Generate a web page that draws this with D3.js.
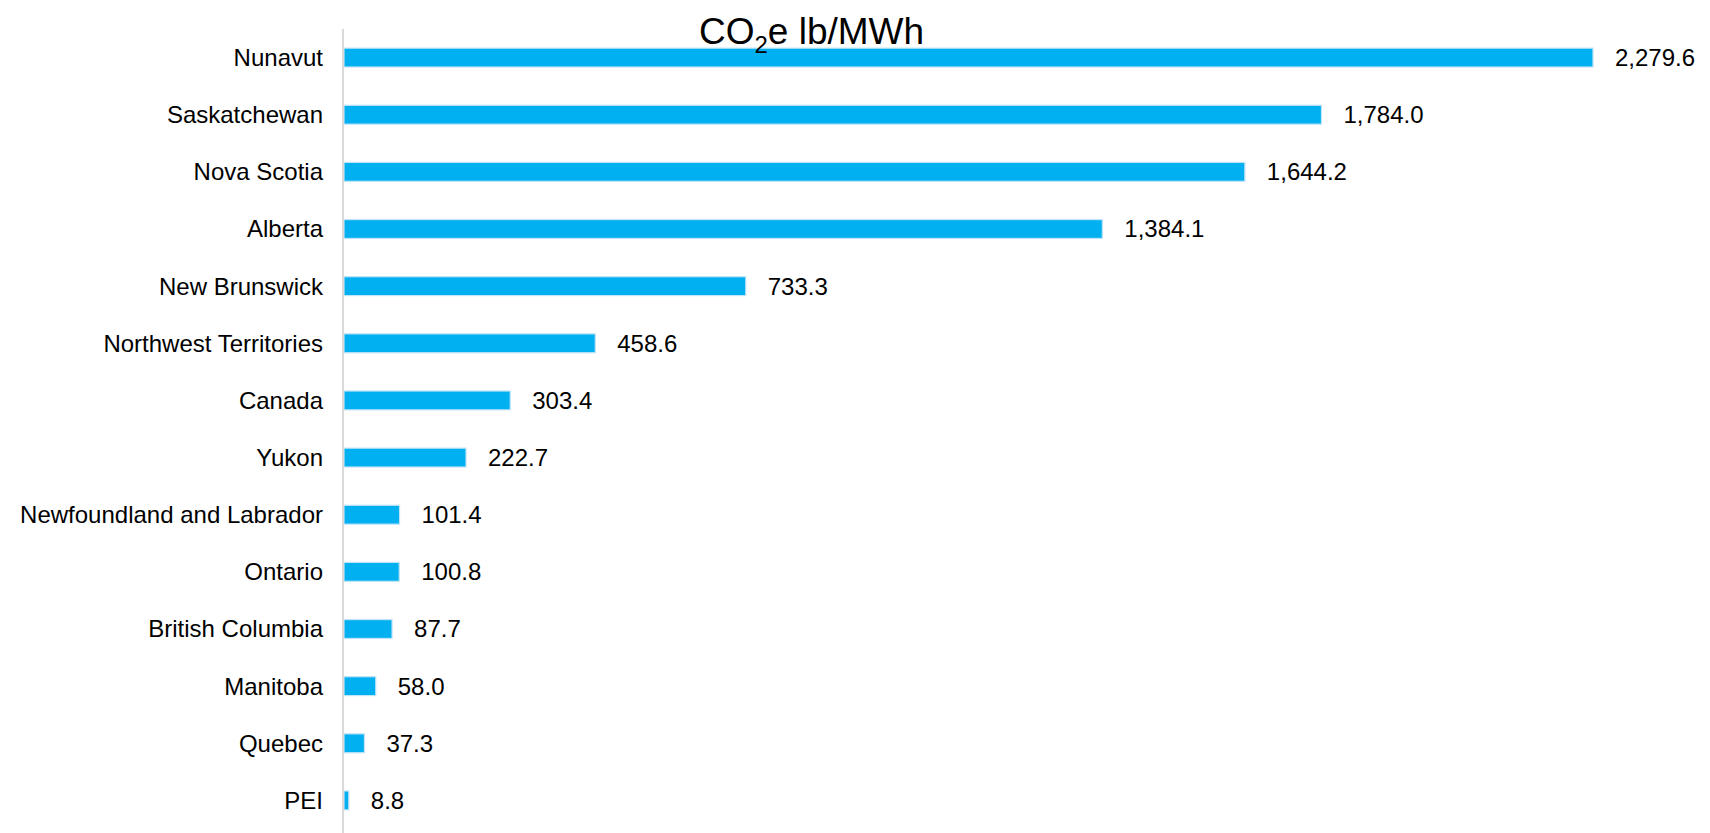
<!DOCTYPE html>
<html>
<head>
<meta charset="utf-8">
<script src="https://cdn.jsdelivr.net/npm/d3@7"></script>
<style>
  html, body { margin: 0; padding: 0; background: #fff; }
  svg text { font-family: "Liberation Sans", Arial, sans-serif; fill: #000; }
</style>
</head>
<body>
<svg id="chart" width="1710" height="833"></svg>
<script>
// Emission intensity by province / territory
const provinces = [
  'Nunavut', 'Saskatchewan', 'Nova Scotia', 'Alberta', 'New Brunswick',
  'Northwest Territories', 'Canada', 'Yukon', 'Newfoundland and Labrador',
  'Ontario', 'British Columbia', 'Manitoba', 'Quebec', 'PEI'
];
const co2e = [
  2279.6, 1784.0, 1644.2, 1384.1, 733.3,
  458.6, 303.4, 222.7, 101.4,
  100.8, 87.7, 58.0, 37.3, 8.8
];

const rows = provinces.map((name, i) => ({ name, value: co2e[i] }));

const svg = d3.select('#chart');
const axisX = 343;

const x = d3.scaleLinear()
  .domain([0, d3.max(co2e)])
  .range([axisX + 1, 1593]);

const y = d3.scaleBand()
  .domain(provinces)
  .range([29, 829])
  .paddingInner(0.67)
  .paddingOuter(0.335);

// bars
svg.append('g')
  .selectAll('rect')
  .data(rows)
  .join('rect')
  .attr('x', x(0))
  .attr('y', d => y(d.name))
  .attr('width', d => x(d.value) - x(0))
  .attr('height', y.bandwidth())
  .attr('fill', '#00B0F0')
  .attr('stroke', '#bfe3f7')
  .attr('stroke-width', 1.2);

// vertical category axis line
svg.append('line')
  .attr('x1', axisX).attr('x2', axisX)
  .attr('y1', 29).attr('y2', 833)
  .attr('stroke', '#d9d9d9')
  .attr('stroke-width', 2);

// category labels
svg.append('g')
  .selectAll('text')
  .data(rows)
  .join('text')
  .attr('x', axisX - 20)
  .attr('y', d => y(d.name) + y.bandwidth() / 2)
  .attr('dy', '0.35em')
  .attr('text-anchor', 'end')
  .style('font-size', '24px')
  .text(d => d.name);

// value labels
const fmt = d3.format(',.1f');
svg.append('g')
  .selectAll('text')
  .data(rows)
  .join('text')
  .attr('x', d => x(d.value) + 22)
  .attr('y', d => y(d.name) + y.bandwidth() / 2)
  .attr('dy', '0.35em')
  .style('font-size', '24px')
  .text(d => fmt(d.value));

// title with subscript
const title = svg.append('text')
  .attr('x', 699)
  .attr('y', 44)
  .style('font-size', '37px');
title.append('tspan').text('CO');
title.append('tspan').attr('dy', 9).style('font-size', '24px').text('2');
title.append('tspan').attr('dy', -9).text('e lb/MWh');
</script>
</body>
</html>
